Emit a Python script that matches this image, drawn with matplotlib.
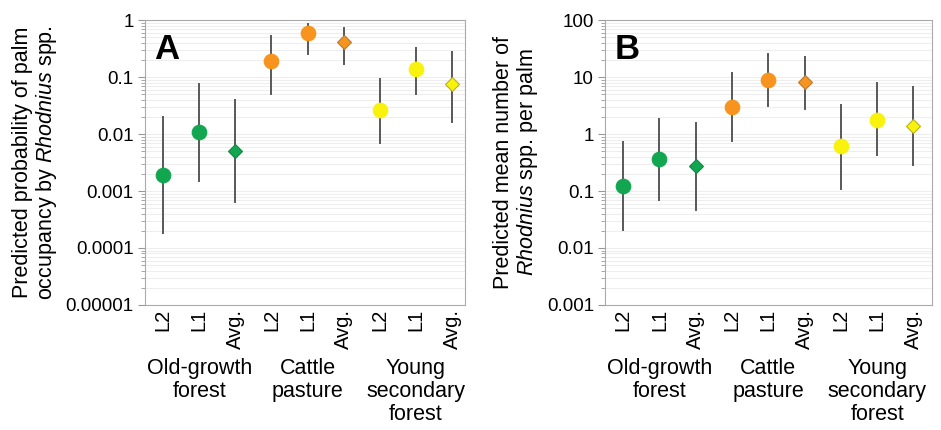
import matplotlib
matplotlib.use('Agg')
import matplotlib.pyplot as plt
from matplotlib.ticker import LogLocator, FixedLocator, NullFormatter
import numpy as np

plt.rcParams['font.family'] = ['Liberation Sans', 'DejaVu Sans']
plt.rcParams['mathtext.fontset'] = 'custom'
plt.rcParams['mathtext.rm'] = 'Liberation Sans'
plt.rcParams['mathtext.it'] = 'Liberation Sans:italic'

# Data
TICK_LABELS = ['L2', 'L1', 'Avg.'] * 3
GROUPS = ['Old-growth\nforest', 'Cattle\npasture', 'Young\nsecondary\nforest']
COLORS = ['#11a64f'] * 3 + ['#f7941d'] * 3 + ['#f8f20d'] * 3
EDGES = ['#11a64f', '#11a64f', '#0e8a42', '#f7941d', '#f7941d', '#b77a3a',
         '#f8f20d', '#f8f20d', '#b9b020']
MARKERS = ['o', 'o', 'D'] * 3

# Panel A: probability of palm occupancy
occ_mean = [0.0019, 0.011, 0.0051, 0.19, 0.60, 0.42, 0.026, 0.14, 0.075]
occ_low = [0.00018, 0.0015, 0.00063, 0.05, 0.25, 0.17, 0.007, 0.05, 0.016]
occ_high = [0.02, 0.075, 0.04, 0.52, 0.85, 0.74, 0.093, 0.33, 0.28]

# Panel B: mean number of bugs per palm
num_mean = [0.12, 0.36, 0.27, 3.0, 8.9, 8.1, 0.61, 1.8, 1.4]
num_low = [0.021, 0.07, 0.046, 0.76, 3.1, 2.8, 0.11, 0.43, 0.29]
num_high = [0.74, 1.87, 1.58, 12, 26, 23, 3.3, 7.9, 6.7]


def draw_panel(ax, mean, low, high, ylim, yticks, yticklabels, ylabel, letter, xright):
    x = np.arange(len(mean))
    for i in x:
        ax.plot([i, i], [low[i], high[i]], color='#585858', lw=1.4, zorder=2)
        size = 10.5 if MARKERS[i] == 'o' else 6.8
        ax.plot(i, mean[i], marker=MARKERS[i], ms=size, color=COLORS[i],
                mec=EDGES[i], mew=0.8, zorder=3, ls='none')
    ax.set_yscale('log')
    ax.set_ylim(*ylim)
    ax.set_xlim(-0.5, xright)
    ax.yaxis.set_major_locator(FixedLocator(yticks))
    ax.set_yticklabels(yticklabels, fontsize=13.5)
    ax.yaxis.set_minor_locator(LogLocator(base=10, subs=np.arange(2, 10)))
    ax.yaxis.set_minor_formatter(NullFormatter())
    ax.grid(True, which='both', axis='y', color='#eeeeee', lw=0.8, zorder=0)
    ax.tick_params(axis='y', which='major', length=5, color='#999999', pad=3)
    ax.tick_params(axis='y', which='minor', length=3, color='#999999')
    ax.set_xticks(x)
    ax.set_xticklabels(TICK_LABELS, rotation=90, fontsize=14.5)
    ax.tick_params(axis='x', length=0, pad=3)
    for s in ax.spines.values():
        s.set_color('#aaaaaa')
    ax.set_ylabel(ylabel, fontsize=15.5, labelpad=5, linespacing=1.05)
    ax.text(0.03, 0.955, letter, transform=ax.transAxes, fontsize=25,
            fontweight='bold', va='top', ha='left')
    for g, name in enumerate(GROUPS):
        ax.text(g * 3 + 1, -0.185, name, transform=ax.get_xaxis_transform(),
                ha='center', va='top', fontsize=15.5, linespacing=1.15)


fig = plt.figure(figsize=(9.41, 4.30), dpi=100)
axA = fig.add_axes([0.154, 0.291, 0.340, 0.662])
axB = fig.add_axes([0.643, 0.291, 0.347, 0.662])

draw_panel(axA, occ_mean, occ_low, occ_high, (1e-5, 1),
           [1e-5, 1e-4, 1e-3, 1e-2, 1e-1, 1],
           ['0.00001', '0.0001', '0.001', '0.01', '0.1', '1'],
           'Predicted probability of palm\noccupancy by $Rhodnius$ spp.', 'A', 8.35)
draw_panel(axB, num_mean, num_low, num_high, (1e-3, 100),
           [1e-3, 1e-2, 1e-1, 1, 10, 100],
           ['0.001', '0.01', '0.1', '1', '10', '100'],
           'Predicted mean number of\n$Rhodnius$ spp. per palm', 'B', 8.5)

fig.savefig('out.png', dpi=100)
